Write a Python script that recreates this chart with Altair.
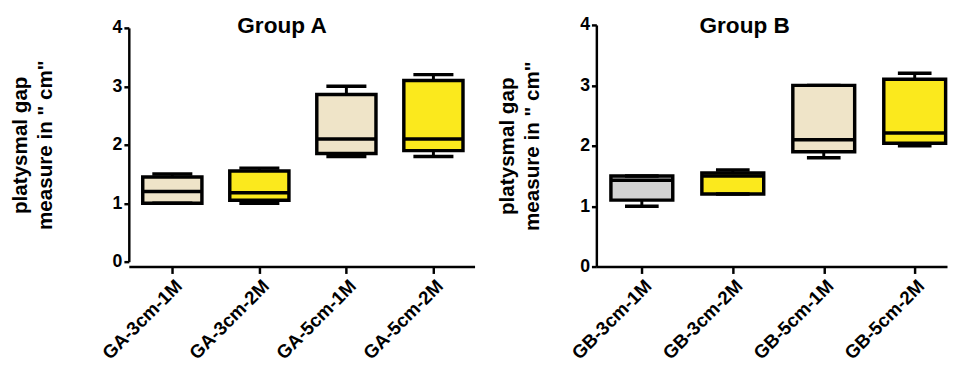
import altair as alt
import pandas as pd

FONT = "Liberation Sans"
BEIGE = "#efe4c8"
YELLOW = "#fbe91d"
GREY = "#d3d3d3"

# Group A
cats_a = ["GA-3cm-1M", "GA-3cm-2M", "GA-5cm-1M", "GA-5cm-2M"]
min_a = [1.0, 1.0, 1.8, 1.8]
q1_a = [1.0, 1.05, 1.85, 1.9]
med_a = [1.2, 1.18, 2.1, 2.1]
q3_a = [1.45, 1.55, 2.86, 3.1]
max_a = [1.5, 1.6, 3.0, 3.2]
fill_a = [BEIGE, YELLOW, BEIGE, YELLOW]

# Group B
cats_b = ["GB-3cm-1M", "GB-3cm-2M", "GB-5cm-1M", "GB-5cm-2M"]
min_b = [1.0, 1.2, 1.8, 2.0]
q1_b = [1.1, 1.2, 1.9, 2.04]
med_b = [1.43, 1.5, 2.1, 2.21]
q3_b = [1.5, 1.55, 3.0, 3.1]
max_b = [1.5, 1.6, 3.0, 3.2]
fill_b = [GREY, YELLOW, BEIGE, YELLOW]


def panel(cats, mins, q1s, meds, q3s, maxs, fills, title, width, height,
          yrange, xmax, cap_half, title_pad, tx, ty):
    df = pd.DataFrame({
        "cat": cats, "pos": [i + 0.5 for i in range(len(cats))],
        "mn": mins, "q1": q1s, "med": meds, "q3": q3s, "mx": maxs, "fill": fills,
    })
    label_list = ",".join("'" + c + "'" for c in cats)
    xs = alt.Scale(domain=[0, xmax], nice=False, zero=False)
    ys = alt.Scale(domain=[0, 4], nice=False, range=yrange)
    x_axis = alt.Axis(
        values=[0.5, 1.5, 2.5, 3.5], labelExpr=f"[{label_list}][floor(datum.value)]",
        labelAngle=-45, labelFont=FONT, labelFontSize=19, labelFontWeight="bold",
        labelColor="black", tickSize=7, tickWidth=2.5, tickColor="black",
        domainWidth=2.5, domainColor="black", grid=False, title=None, labelPadding=3,
        labelOverlap=False)
    y_axis = alt.Axis(
        values=[0, 1, 2, 3, 4], format="d", labelFont=FONT, labelFontSize=18,
        labelFontWeight="bold", labelColor="black", tickSize=5, tickWidth=2.5,
        tickColor="black", domainWidth=2.5, domainColor="black", grid=False,
        title=["platysmal gap", 'measure in " cm"'], titleFont=FONT,
        titleFontSize=21, titleFontWeight="bold", titleColor="black",
        titlePadding=title_pad, labelPadding=2, titleLineHeight=25)
    base = alt.Chart(df).transform_calculate(
        left="datum.pos - 0.34", right="datum.pos + 0.34",
        cl=f"datum.pos - {cap_half}", cr=f"datum.pos + {cap_half}")
    whisk = base.mark_rule(color="black", strokeWidth=3).encode(
        x=alt.X("pos:Q", scale=xs, axis=x_axis),
        y=alt.Y("mn:Q", scale=ys, axis=y_axis), y2="mx:Q")
    box = base.mark_bar(stroke="black", strokeWidth=3.5).encode(
        x=alt.X("left:Q", scale=xs), x2="right:Q",
        y=alt.Y("q1:Q", scale=ys), y2="q3:Q",
        fill=alt.Fill("fill:N", scale=None))
    med = base.mark_rule(color="black", strokeWidth=3.5).encode(
        x=alt.X("left:Q", scale=xs), x2="right:Q", y=alt.Y("med:Q", scale=ys))
    cap_lo = base.mark_rule(color="black", strokeWidth=3.5).encode(
        x=alt.X("cl:Q", scale=xs), x2="cr:Q", y=alt.Y("mn:Q", scale=ys))
    cap_hi = base.mark_rule(color="black", strokeWidth=3.5).encode(
        x=alt.X("cl:Q", scale=xs), x2="cr:Q", y=alt.Y("mx:Q", scale=ys))
    ttl = alt.Chart(pd.DataFrame({"t": [title]})).mark_text(
        font=FONT, fontSize=23, fontWeight="bold", color="black",
        align="center", baseline="alphabetic").encode(
        text="t:N", x=alt.value(tx), y=alt.value(ty))
    return alt.layer(whisk, box, med, cap_lo, cap_hi, ttl).properties(
        width=width, height=height)


pa = panel(cats_a, min_a, q1_a, med_a, q3_a, max_a, fill_a, "Group A",
           352, 246, [241, 3], 352 / 88.6, 0.23, 58, 156, 8)
pb = panel(cats_b, min_b, q1_b, med_b, q3_b, max_b, fill_b, "Group B",
           357, 246, [246, 0], 357 / 92.6, 0.185, 38, 151, 8)

chart = alt.hconcat(pa, pb, spacing=22).properties(
    padding={"left": 1, "top": 4, "right": 0, "bottom": 0}
).configure_view(stroke=None)

chart.save("out.html", embed_options={"renderer": "svg", "actions": False})
